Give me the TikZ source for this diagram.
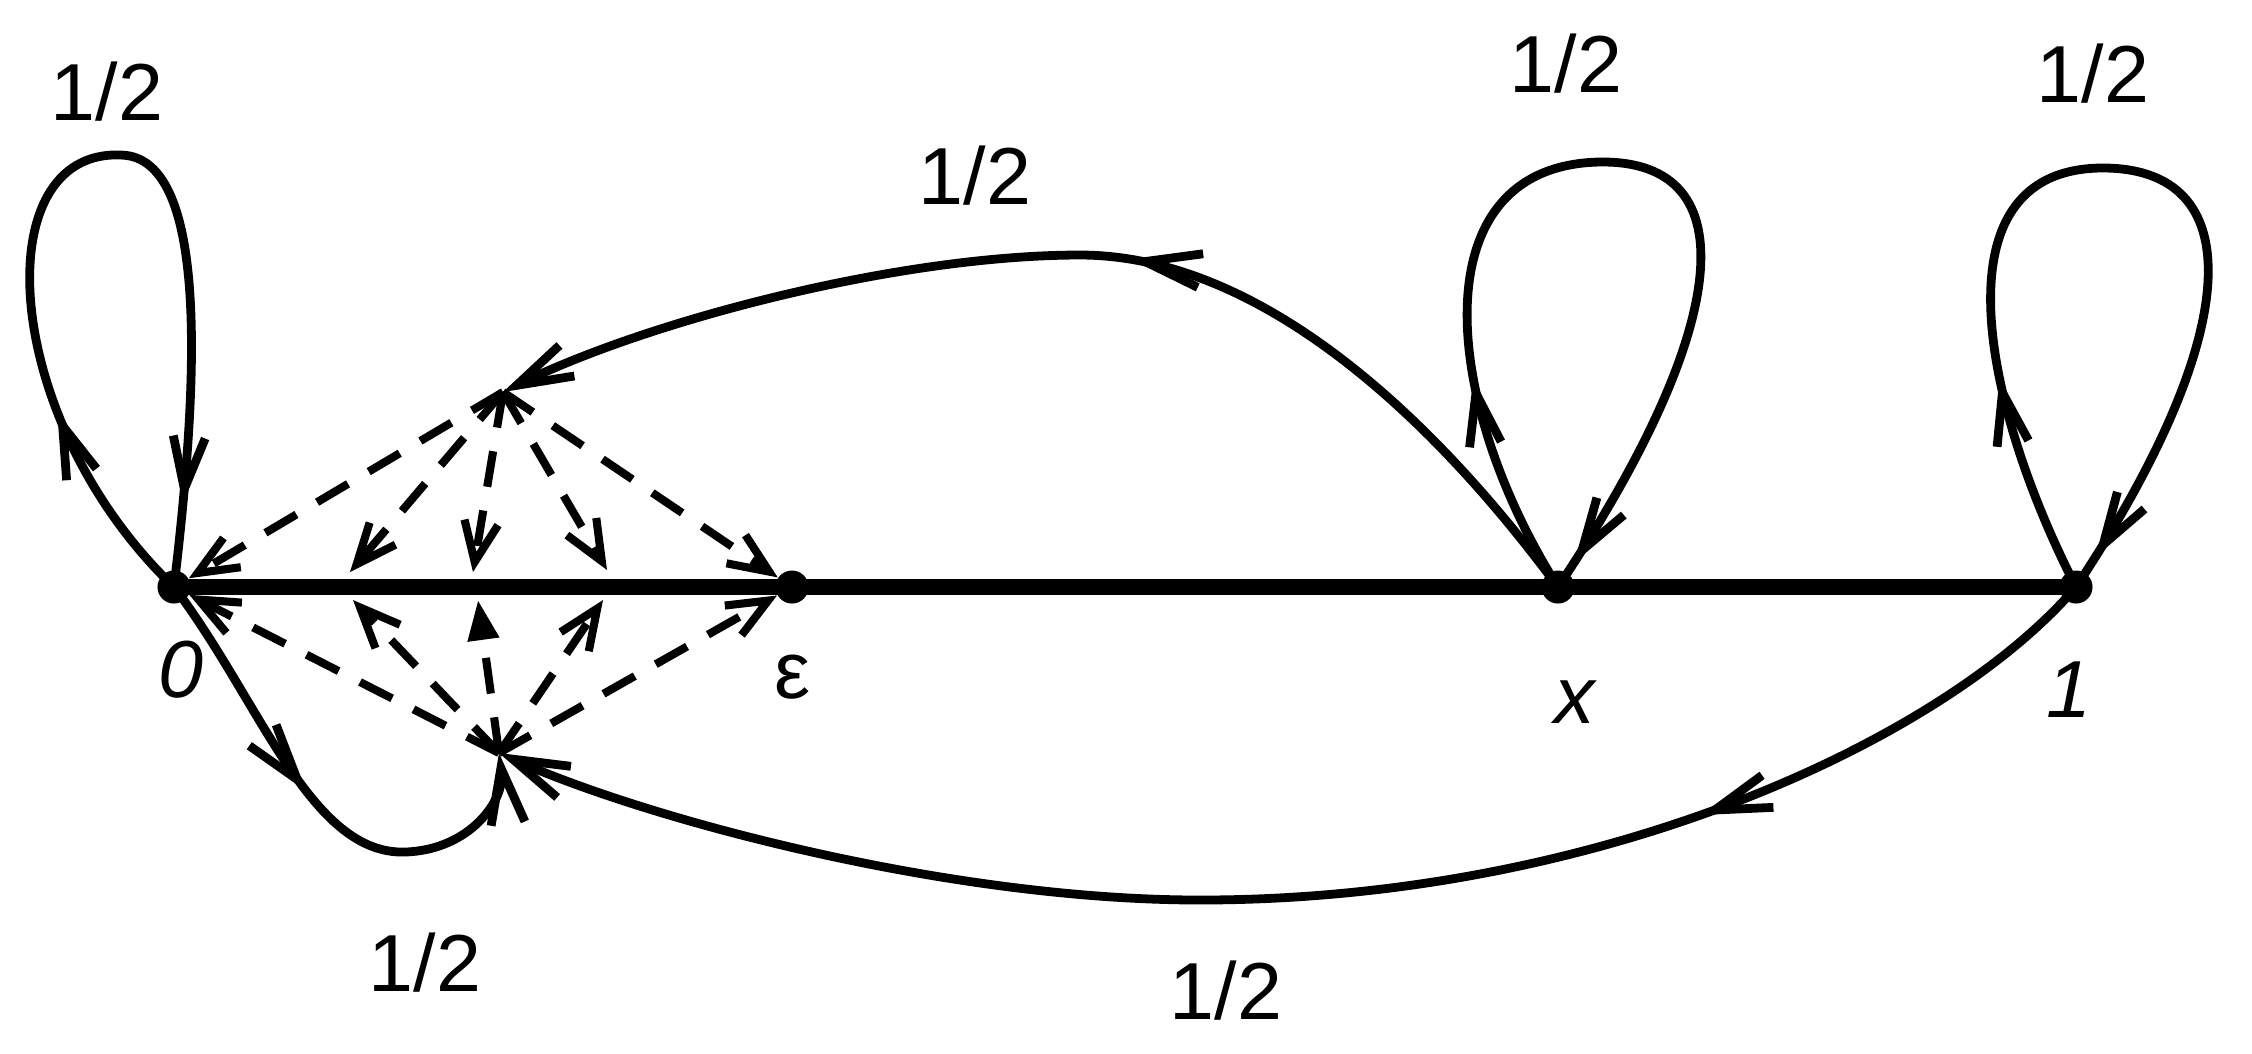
\documentclass[tikz,border=0pt]{standalone}
\usepackage{fontspec}
\setmainfont{Liberation Sans}
\usetikzlibrary{arrows.meta,decorations.markings}
\begin{document}
\begin{tikzpicture}[x=0.01cm,y=-0.01cm,
  looptip/.tip={Straight Barb[length=5.2mm,width=3.2mm]},
  arctip/.tip={Straight Barb[length=5.6mm,width=3.4mm]},
  raytip/.tip={Straight Barb[length=4mm,width=3.4mm]},
  curve/.style={line width=2.5pt, line join=round},
  axisline/.style={line width=4.3pt},
  dray/.style={line width=2.3pt, dash pattern=on 0.36cm off 0.24cm, -raytip},
  dot/.style={circle,fill,inner sep=0pt,minimum size=0.33cm},
  lbl/.style={font=\fontsize{23}{27}\selectfont, inner sep=0pt},
  looparrows/.style 2 args={postaction={decorate},decoration={markings,
     mark=at position #1 with {\arrow{looptip}},
     mark=at position #2 with {\arrow{looptip}}}},
  arcarrow/.style={postaction={decorate},decoration={markings,
     mark=at position #1 with {\arrow{arctip}}}}
]
\fill[white] (0,0) rectangle (2252,1053);
\useasboundingbox (0,0) rectangle (2252,1053);

% points on the line
\node[dot] (n0) at (174,587) {};
\node[dot] (ne) at (792,587) {};
\node[dot] (nx) at (1558,587) {};
\node[dot] (n1) at (2076,587) {};
\coordinate (U) at (503,392);
\coordinate (L) at (499,753);
\coordinate (a1) at (350,572);
\coordinate (a2) at (473,572);
\coordinate (a3) at (607,570);
\coordinate (b1) at (353,600);
\coordinate (b2) at (478,600);
\coordinate (b3) at (603,600);

% axis
\draw[axisline] (n0.center) -- (n1.center);

% labels of points
\node[lbl] (l0) at (181,670) {\itshape 0};
\node[lbl] (le) at (793,677) {ε};
\node[lbl] (lx) at (1575,702) {\itshape x};
\node[lbl] (l1) at (2069,690) {\itshape 1};

% loop at 0
\draw[curve, looparrows={0.215}{0.915}] (n0.center) .. controls (0,420) and (-15,150) .. (120,155)
      .. controls (215,155) and (195,410) .. (n0.center);
% loop at x
\draw[curve, looparrows={0.217}{0.972}] (nx.center) .. controls (1440,400) and (1420,165) .. (1600,162)
      .. controls (1750,160) and (1730,330) .. (nx.center);
% loop at 1
\draw[curve, looparrows={0.22}{0.965}] (n1.center) .. controls (1985,410) and (1932,171) .. (2100,168)
      .. controls (2250,166) and (2246,330) .. (n1.center);

% upper big arc x -> U
\draw[curve, -arctip, arcarrow=0.46] (nx.center) .. controls (1420,400) and (1250,255) .. (1080,255)
      .. controls (900,255) and (650,320) .. (U);
% lower big arc 1 -> L
\draw[curve, -arctip, arcarrow=0.265] (n1.center) .. controls (1945,740) and (1600,900) .. (1200,900)
      .. controls (950,900) and (650,820) .. (L);
% small arc 0 -> L
\draw[curve, -arctip, arcarrow=0.47] (n0.center) .. controls (260,700) and (310,855) .. (405,852)
      .. controls (470,850) and (505,800) .. (L);

% dashed rays from U
\draw[dray] (U) -- (n0);
\draw[dray] (U) -- (a1);
\draw[dray] (U) -- (a2);
\draw[dray] (U) -- (a3);
\draw[dray] (U) -- (ne);
% dashed rays from L
\draw[dray] (L) -- (n0);
\draw[dray] (L) -- (b1);
\draw[dray, -{Triangle[length=4mm,width=3mm]}] (L) -- (b2);
\draw[dray] (L) -- (b3);
\draw[dray] (L) -- (ne);

% probability labels
\node[lbl] (p0) at (107,92) {1/2};
\node[lbl] (px) at (1566,64) {1/2};
\node[lbl] (p1) at (2093,74) {1/2};
\node[lbl] (pu) at (975,176) {1/2};
\node[lbl] (ps) at (425,963) {1/2};
\node[lbl] (pl) at (1226,991) {1/2};
\end{tikzpicture}
\end{document}
